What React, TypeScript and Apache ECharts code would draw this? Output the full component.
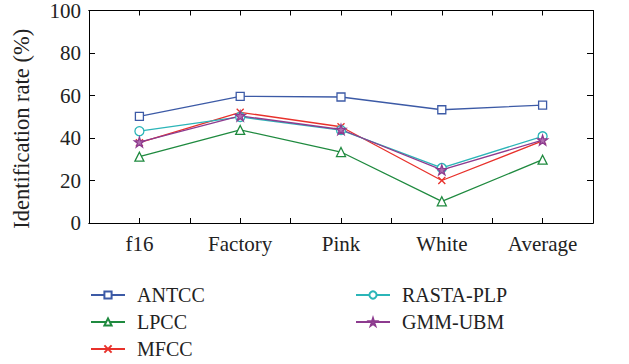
import React, { useEffect, useRef } from "react";
import * as echarts from "echarts";

const categories = ["f16", "Factory", "Pink", "White", "Average"];
const antcc = [50.2, 59.6, 59.3, 53.3, 55.5];
const lpcc = [31.2, 43.8, 33.4, 10.2, 29.8];
const mfcc = [37.8, 52.1, 45.3, 20.0, 38.6];
const rasta = [43.2, 49.9, 43.7, 25.9, 40.8];
const gmm = [38.1, 50.4, 44.0, 25.0, 39.0];
const seriesNames = ["ANTCC", "LPCC", "MFCC", "RASTA-PLP", "GMM-UBM"];
const yTicks = [0, 20, 40, 60, 80, 100];

const FONT = "Liberation Serif";
const STAR =
  "path://M5,0 L6.2,3.6 L10,3.6 L6.9,5.9 L8.1,9.5 L5,7.3 L1.9,9.5 L3.1,5.9 L0,3.6 L3.8,3.6 Z";
const CROSS = "path://M0,0 L10,10 M10,0 L0,10";

export default function App() {
  const ref = useRef<HTMLDivElement>(null);
  useEffect(() => {
    const chart = echarts.init(ref.current!, undefined, { renderer: "svg" });
    const mk = (
      name: string,
      data: number[],
      color: string,
      symbol: string,
      size: number,
      fill: string
    ) => ({
      name,
      type: "line",
      data,
      xAxisIndex: 0,
      yAxisIndex: 0,
      symbol,
      symbolSize: size,
      showAllSymbol: true,
      lineStyle: { color, width: 1.3 },
      itemStyle: { color: fill, borderColor: color, borderWidth: 1.3 },
    });
    const blackLine = { show: true, lineStyle: { color: "#000", width: 1 } };
    const legendText = { fontFamily: FONT, fontSize: 20, color: "#222", padding: [0, 0, 0, 7] };
    chart.setOption({
      animation: false,
      backgroundColor: "#fff",
      textStyle: { fontFamily: FONT },
      grid: { left: 89, right: 36, top: 8, bottom: 141 },
      legend: [
        {
          data: seriesNames.slice(0, 3),
          orient: "vertical",
          left: 90,
          top: 285,
          padding: 0,
          itemWidth: 34,
          itemHeight: 9,
          itemGap: 7,
          height: 79,
          textStyle: legendText,
        },
        {
          data: seriesNames.slice(3),
          orient: "vertical",
          left: 355,
          top: 285,
          padding: 0,
          itemWidth: 34,
          itemHeight: 9,
          itemGap: 7,
          height: 79,
          textStyle: legendText,
        },
      ],
      xAxis: [
        {
          type: "category",
          data: categories,
          boundaryGap: true,
          position: "bottom",
          axisLine: blackLine,
          axisTick: { show: true, inside: true, alignWithLabel: true, length: 5, lineStyle: { color: "#000" } },
          axisLabel: { fontFamily: FONT, fontSize: 21, color: "#222", margin: 10 },
        },
        {
          type: "category",
          data: categories,
          boundaryGap: true,
          position: "bottom",
          axisLine: blackLine,
          axisTick: { show: true, inside: true, length: 5, lineStyle: { color: "#000" } },
          axisLabel: { show: false },
        },
        {
          type: "category",
          data: categories,
          boundaryGap: true,
          position: "top",
          axisLine: blackLine,
          axisTick: { show: true, inside: true, alignWithLabel: true, length: 5, lineStyle: { color: "#000" } },
          axisLabel: { show: false },
        },
        {
          type: "category",
          data: categories,
          boundaryGap: true,
          position: "top",
          axisLine: blackLine,
          axisTick: { show: true, inside: true, length: 5, lineStyle: { color: "#000" } },
          axisLabel: { show: false },
        },
      ],
      yAxis: [
        {
          type: "value",
          min: yTicks[0],
          max: yTicks[yTicks.length - 1],
          interval: 20,
          position: "left",
          name: "Identification rate (%)",
          nameLocation: "middle",
          nameGap: 56,
          nameTextStyle: { fontFamily: FONT, fontSize: 22.5, color: "#222", padding: [0, 24, 0, 0] },
          axisLine: blackLine,
          axisTick: { show: true, inside: true, length: 6, lineStyle: { color: "#000" } },
          axisLabel: { fontFamily: FONT, fontSize: 21, color: "#222", margin: 8 },
          splitLine: { show: false },
        },
        {
          type: "value",
          min: yTicks[0],
          max: yTicks[yTicks.length - 1],
          interval: 20,
          position: "right",
          axisLine: blackLine,
          axisTick: { show: true, inside: true, length: 6, lineStyle: { color: "#000" } },
          axisLabel: { show: false },
          splitLine: { show: false },
        },
      ],
      series: [
        mk("ANTCC", antcc, "#3c5aa6", "rect", 8, "#fff"),
        mk("LPCC", lpcc, "#1f8a3f", "triangle", 9, "#fff"),
        mk("MFCC", mfcc, "#e8312b", CROSS, 7, "#e8312b"),
        mk("RASTA-PLP", rasta, "#2bb5b8", "circle", 9, "#fff"),
        mk("GMM-UBM", gmm, "#8d3b8f", STAR, 10, "#b070b0"),
      ],
    });
    return () => chart.dispose();
  }, []);
  return (
    <div
      ref={ref}
      style={{ position: "absolute", left: 0, top: 0, width: 629, height: 364 }}
    />
  );
}
